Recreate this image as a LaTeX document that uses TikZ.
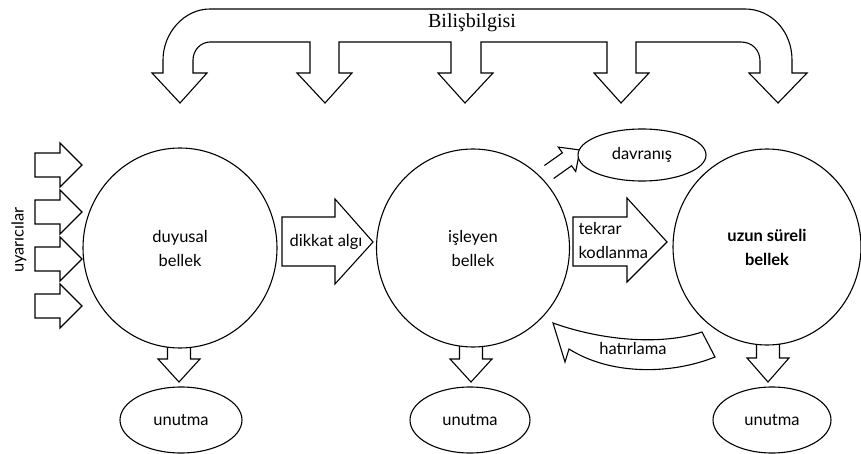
\documentclass[tikz,border=0pt]{standalone}
\usepackage{fontspec}
\setmainfont{Lato}
\newfontfamily\titlefont{Liberation Serif}
\usetikzlibrary{shapes.geometric}
\begin{document}
\begin{tikzpicture}[x=1pt,y=-1pt,line width=1.1pt,
  blk/.style={draw,fill=white,line join=miter},
  mem/.style={ellipse,draw,fill=white,inner sep=0pt,align=center,
    font=\fontsize{16.5}{24}\selectfont},
  lbl/.style={inner sep=0pt,align=center,font=\fontsize{16.5}{24}\selectfont}]
\useasboundingbox (0,0) rectangle (861,454);

% top "Bilisbilgisi" distributing arrow
\path[blk] (152,73) -- (180,103) -- (207,73) -- (193,73) -- (193,60)
  .. controls (193,50) and (201,42) .. (210,42) -- (310,42) -- (310,73)
  -- (297,73) -- (325,103) -- (352,73) -- (339,73) -- (339,42)
  -- (451,42) -- (451,73) -- (438,73) -- (465,103) -- (493,73) -- (481,73)
  -- (481,42) -- (607,42) -- (607,73) -- (594,73) -- (621,103) -- (649,73)
  -- (636,73) -- (636,42) -- (741,42) .. controls (752,42) and (760,50) .. (760,61)
  -- (760,73) -- (749,73) -- (778,103) -- (807,73) -- (792,73) -- (792,60)
  .. controls (792,31) and (771,9) .. (745,9) -- (210,9)
  .. controls (184,9) and (163,33) .. (163,60) -- (163,73) -- cycle;
\node[inner sep=0pt,font=\titlefont\fontsize{20}{24}\selectfont] (bb) at (472,23) {Bilişbilgisi};

% stimulus arrows
\foreach \yy in {165,212,259,306}{
  \path[blk] (35,\yy-12) -- (60,\yy-12) -- (60,\yy-22) -- (82,\yy) -- (60,\yy+22)
    -- (60,\yy+12) -- (35,\yy+12) -- cycle;
}
\node[lbl,rotate=90] (uy) at (19,240) {uyarıcılar};

% down arrows to forgetting
\foreach \xx/\ht in {179/359,471/359,768/358}{
  \path[blk] (\xx-11.5,320) -- (\xx+11.5,320) -- (\xx+11.5,\ht) -- (\xx+21,\ht)
    -- (\xx,382) -- (\xx-21,\ht) -- (\xx-11.5,\ht) -- (\xx-11.5,320) -- cycle;
}

% arrow to behaviour
\path[blk] (544.4,165.5) -- (562.4,152.8) -- (558.3,147.1) -- (580,150)
  -- (575.7,171.5) -- (571.6,165.8) -- (553.6,178.5);

% memory stores
\node[mem,minimum width=194pt,minimum height=200pt] (duy) at (180,248) {duyusal\\bellek};
\node[mem,minimum width=193pt,minimum height=198pt] (isl) at (473,248) {işleyen\\bellek};
\node[mem,minimum width=188pt,minimum height=196pt,font=\bfseries\fontsize{16.5}{24}\selectfont] (uzun) at (767,247) {uzun süreli\\bellek};

% forgetting ellipses
\node[mem,minimum width=122pt,minimum height=66pt] (u1) at (181,420) {unutma};
\node[mem,minimum width=120pt,minimum height=66pt] (u2) at (470,420) {unutma};
\node[mem,minimum width=118pt,minimum height=66pt] (u3) at (772,420) {unutma};

% behaviour
\node[mem,minimum width=128pt,minimum height=52pt] (dav) at (642,155) {davranış};

% attention arrow
\path[blk] (282,217) -- (335,217) -- (335,199) -- (373,242) -- (335,284)
  -- (335,266) -- (282,266) -- cycle;
\node[lbl] (dik) at (326,242) {dikkat algı};

% rehearsal arrow
\path[blk] (573,217) -- (627,217) -- (627,198) -- (667,242) -- (627,282)
  -- (627,266) -- (573,266) -- cycle;
\node[lbl,anchor=west,align=left] (tek) at (578,240) {tekrar\\kodlanma};

% retrieval arrow
\path[blk] (553,323) -- (565,362) -- (569,349)
  .. controls (610,375) and (670,375) .. (715,357) -- (702,332)
  .. controls (660,346) and (600,340) .. cycle;
\node[lbl] (hat) at (633,348) {hatırlama};
\end{tikzpicture}
\end{document}
